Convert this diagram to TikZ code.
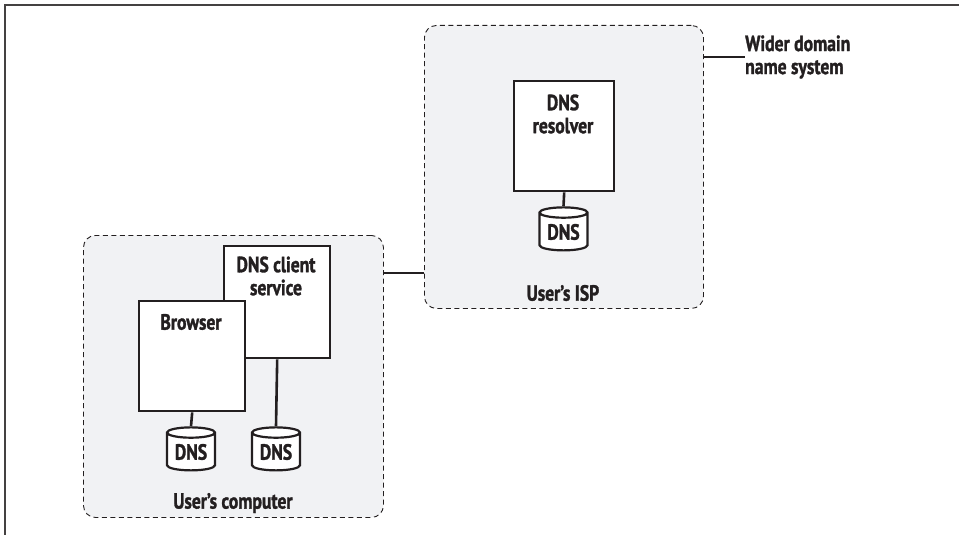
\documentclass[tikz,border=0pt]{standalone}
\usepackage{fontspec}
\setmainfont{PT Sans}[FakeStretch=0.8, BoldFeatures={FakeBold=1.4}]
\usetikzlibrary{shapes.geometric}
\definecolor{grpfill}{RGB}{241,242,244}
\definecolor{ink}{RGB}{35,31,32}
\begin{document}
\begin{tikzpicture}[x=1pt,y=-1pt,
  font=\bfseries\fontsize{22}{23}\selectfont, text=ink,
  group/.style={draw=ink, dash pattern=on 5pt off 3.5pt, fill=grpfill, rounded corners=12pt, line width=0.9pt, anchor=north west, inner sep=0pt},
  proc/.style={draw=ink, fill=white, line width=2.4pt, anchor=north west, inner sep=0pt},
  db/.style={cylinder, shape border rotate=90, draw=ink, fill=white, line width=2.2pt, minimum width=48pt, minimum height=43pt, aspect=0.32, inner sep=0pt},
  link/.style={draw=ink, line width=2.6pt},
  lbl/.style={align=center, inner sep=0pt}]
\useasboundingbox (0,0) rectangle (959,535);
% frame
\draw[draw=ink!85, line width=1.3pt] (5,535) -- (5,5) -- (959,5);
% groups
\node[group, minimum width=300pt, minimum height=282pt] (comp) at (83,235) {};
\node[group, minimum width=279pt, minimum height=283pt] (isp) at (424,25) {};
\coordinate (ylink) at (0,273);
\coordinate (ywide) at (0,57);
\draw[link] (comp.east |- ylink) -- (isp.west |- ylink);
% wider domain
\node[lbl, align=left, anchor=west] (wide) at (745,57) {Wider domain\\name system};
\draw[link] (isp.east |- ywide) -- (wide.west |- ywide);
% ISP contents
\node[proc, minimum width=100pt, minimum height=110pt] (resolver) at (513,80) {};
\node[lbl] (restxt) at (563,114) {DNS\\resolver};
\node[db] (rdb) at (563.5,232) {DNS};
\draw[link] (resolver.south) -- (rdb.top);
\node[lbl] (isplbl) at (563,293) {User’s ISP};
% computer contents
\node[proc, minimum width=106pt, minimum height=112pt] (client) at (223,245) {};
\node[lbl] (clitxt) at (276,276) {DNS client\\service};
\node[proc, minimum width=106pt, minimum height=110pt] (browser) at (138,300) {};
\node[lbl] (brtxt) at (191,322) {Browser};
\node[db] (bdb) at (191,452) {DNS};
\node[db] (cdb) at (276,452) {DNS};
\draw[link] (browser.south) -- (bdb.top);
\draw[link] (client.south) -- (cdb.top);
\node[lbl] (complbl) at (233,503) {User’s computer};
\end{tikzpicture}
\end{document}
